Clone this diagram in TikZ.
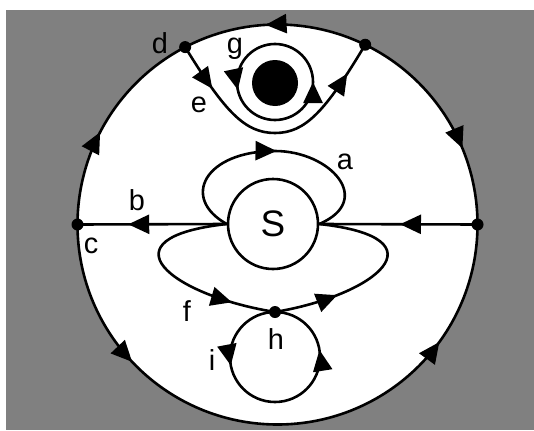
\documentclass[tikz,border=0pt]{standalone}
\usepackage{fontspec}
\setmainfont{Liberation Sans}
\usetikzlibrary{arrows.meta, positioning, decorations.markings, calc}

\begin{document}
\begin{tikzpicture}[x=1bp, y=1bp, line width=2.6bp,
  >={Triangle[length=21bp,width=19bp]},
  dot/.style={circle, fill, inner sep=0pt, minimum size=12bp},
  lbl/.style={font=\fontsize{29}{31}\selectfont},
  flowat/.style={postaction={decorate, decoration={markings,
      mark=at position #1 with {\arrow{>}}}}}]
  \def\R{200}
  \useasboundingbox (0,0) rectangle (534,430);
  \fill[gray] (6,0) rectangle (534,420);
  \coordinate (O) at (277.5,205.5);
  \fill[white] (O) circle (\R);
  % rim
  \node[dot] (c)  at ([shift={(180:\R)}]O) {};
  \node[dot] (c2) at ([shift={(0:\R)}]O) {};
  \node[dot] (d)  at ([shift={(117.5:\R)}]O) {};
  \node[dot] (d2) at ([shift={(64:\R)}]O) {};
  \draw[flowat=0.55] (d2.center) arc[start angle=64, end angle=117.5, radius=\R];
  \draw[flowat=0.44] (c.center) arc[start angle=180, end angle=117.5, radius=\R];
  \draw[flowat=0.65] (d2.center) arc[start angle=64, end angle=0, radius=\R];
  \draw[flowat=0.241, flowat=0.8] (c.center) arc[start angle=180, end angle=360, radius=\R];
  % centre
  \node[circle, draw, fill=white, inner sep=0pt, minimum size=90bp,
        font=\fontsize{37}{40}\selectfont] (S) at (273,206) {S};
  \node[dot] (h) at (275,118) {};
  \draw[flowat=0.66] (S.west) -- (c.center);
  \draw[flowat=0.49] (c2.center) -- (S.east);
  \draw[flowat=0.51] (S.west) .. controls (180,232) and (205,279) .. (275,279)
    .. controls (330,279) and (375,230) .. (S.east);
  \draw[flowat=0.40, flowat=0.655] (S.west) .. controls (100,192) and (170,135) .. (h.center)
    .. controls (376,135) and (446,192) .. (S.east);
  \draw[flowat=0.28, flowat=0.775] (h.center) arc[start angle=90, delta angle=360, radius=45];
  % top
  \node[circle, fill, inner sep=0pt, minimum size=46bp] (hole) at (275,347) {};
  \coordinate (g0) at (275,386);
  \draw[flowat=0.283, flowat=0.75] (g0) arc[start angle=90, delta angle=360, radius=38];
  \draw[flowat=0.19, flowat=0.87] (d.center) .. controls (225,318) and (245,297) .. (275,297)
    .. controls (305,297) and (325,318) .. (d2.center);
  % labels
  \node[lbl] (la) at (345,268) {a};
  \node[lbl] (lb) at (137,230) {b};
  \node[lbl] (lc) at (91,184) {c};
  \node[lbl] (ld) at (160,387) {d};
  \node[lbl] (le) at (199,325) {e};
  \node[lbl] (lf) at (187,119) {f};
  \node[lbl] (lg) at (235,381) {g};
  \node[lbl] (lh) at (276,91) {h};
  \node[lbl] (li) at (212,70) {i};
\end{tikzpicture}
\end{document}
